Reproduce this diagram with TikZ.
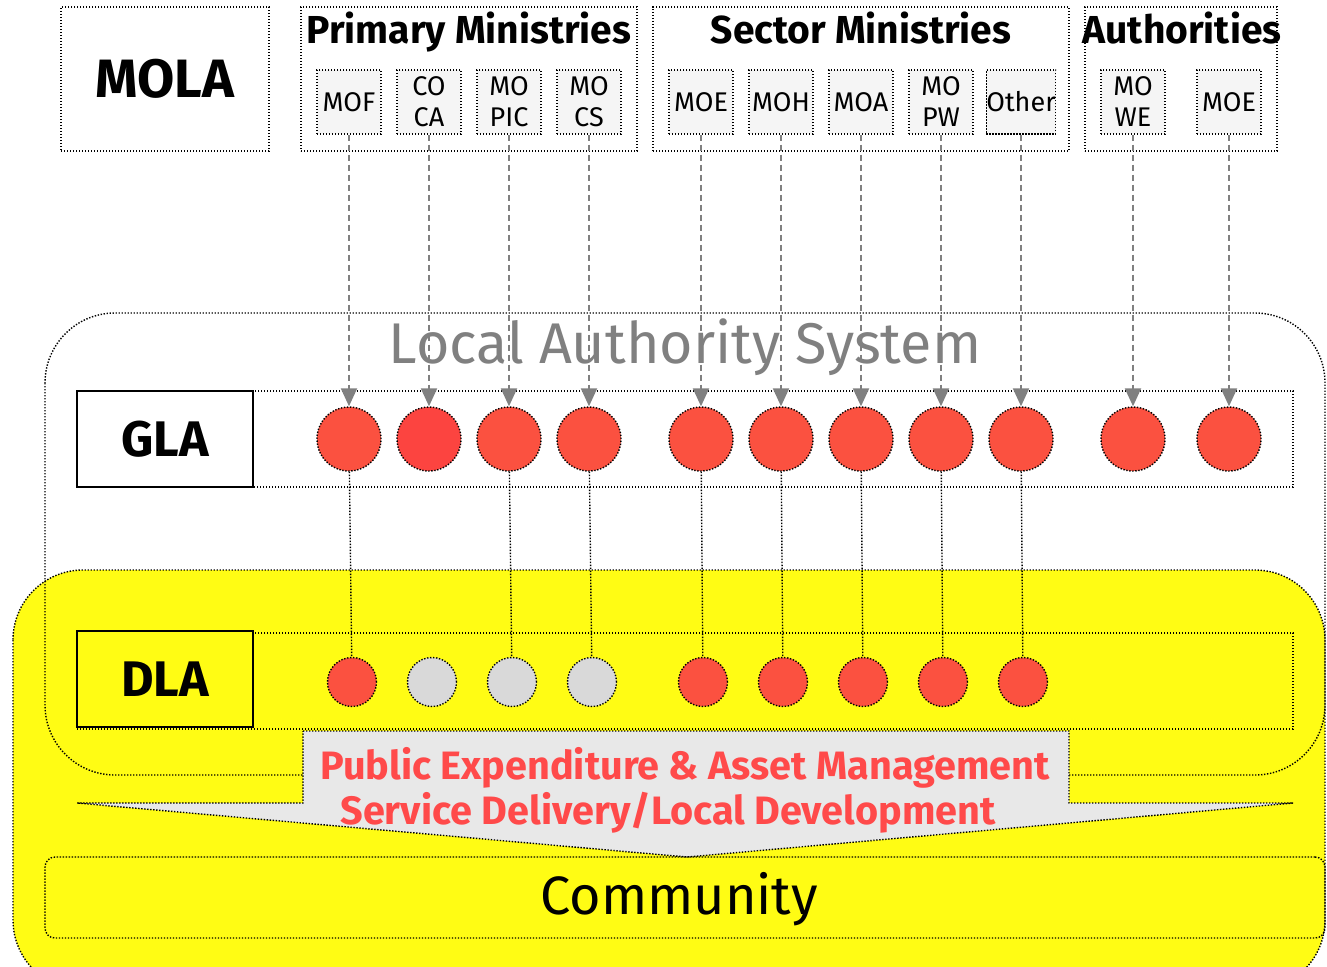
\documentclass[tikz,border=0pt]{standalone}
\usepackage{fontspec}
\setmainfont{Fira Sans}
\usetikzlibrary{arrows.meta}
\definecolor{lasred}{HTML}{FB5140}
\definecolor{lasred2}{HTML}{FC4440}
\definecolor{lasyellow}{HTML}{FFFC14}
\definecolor{boxgray}{HTML}{F5F5F5}
\definecolor{dotgray}{HTML}{D9D9D9}
\definecolor{flowgray}{HTML}{E8E8E8}
\definecolor{textred}{HTML}{FF4A4A}
\tikzset{
  dotbox/.style={draw, dash pattern=on 0.7pt off 0.8pt, line width=0.7pt},
  groupbox/.style={dotbox, minimum height=72pt, inner sep=0pt},
  headtxt/.style={font=\bfseries\fontsize{19.5}{19.5}\selectfont, inner sep=0pt},
  minbox/.style={dotbox, fill=boxgray, minimum width=32pt, minimum height=32pt,
    inner sep=0pt, align=center, font=\fontsize{13.5}{15.5}\selectfont},
  levelbox/.style={draw, line width=1pt, minimum width=88pt, minimum height=48pt,
    font=\bfseries\fontsize{25}{25}\selectfont},
  rowbox/.style={dotbox, minimum width=608pt, minimum height=48pt},
  gcirc/.style={circle, dotbox, minimum size=32pt, inner sep=0pt},
  dcirc/.style={circle, dotbox, minimum size=24.5pt, inner sep=0pt},
  feed/.style={draw=gray, dashed, dash pattern=on 3pt off 2pt, line width=1pt,
    -{Triangle[width=8pt,length=9pt]}},
  link/.style={dash pattern=on 0.7pt off 0.8pt, line width=0.7pt}
}
\begin{document}
\begin{tikzpicture}[x=0.5pt,y=-0.5pt]
\clip (0,0) rectangle (1327,966);
% background areas
\draw[dotbox, fill=lasyellow, rounded corners=35pt] (13,570) rectangle (1325,990);
\draw[dotbox, rounded corners=35pt] (45,313) rectangle (1325,775);
\node[text=gray, font=\fontsize{28.7}{28.7}\selectfont] (lastitle) at (685,347) {Local Authority System};

% ministries
\node[groupbox, minimum width=104pt, font=\bfseries\fontsize{27}{27}\selectfont] (mola) at (165,79) {MOLA};
\node[groupbox, minimum width=168pt] (primary) at (469,79) {};
\node[groupbox, minimum width=208pt] (sector) at (861,79) {};
\node[groupbox, minimum width=96pt] (authority) at (1181,79) {};
\node[headtxt] (ptitle) at (469,32) {Primary Ministries};
\node[headtxt] (stitle) at (861,28) {Sector Ministries};
\node[headtxt] (atitle) at (1182,28) {Authorities};

% GLA / DLA rows
\node[rowbox] (glarow) at (685,439) {};
\node[levelbox, fill=white] (gla) at (165,439) {GLA};
\node[rowbox] (dlarow) at (685,681) {};
\node[levelbox, fill=lasyellow] (dla) at (165,679) {DLA};

\foreach \nm/\x/\txt/\col [count=\i] in {mof/349/MOF/lasred, coca/429/{CO\\CA}/lasred2,
    mopic/509/{MO\\PIC}/lasred, mocs/589/{MO\\CS}/lasred, moe/701/MOE/lasred,
    moh/781/MOH/lasred, moa/861/MOA/lasred, mopw/941/{MO\\PW}/lasred,
    other/1021/Other/lasred, mowe/1133/{MO\\WE}/lasred, moeb/1229/MOE/lasred}{
  \node[minbox] (\nm) at (\x,102) {\txt};
  \node[gcirc, fill=\col] (g\i) at (\x,439) {};
  \draw[feed] (\nm) -- (g\i);
}

\foreach \x/\col [count=\i] in {352/lasred, 432/dotgray, 512/dotgray, 592/dotgray,
    703/lasred, 783/lasred, 863/lasred, 943/lasred, 1023/lasred}{
  \node[dcirc, fill=\col] (d\i) at (\x,682) {};
}
\foreach \i in {1,3,4,5,6,7,8,9}{
  \draw[link] (g\i) -- (d\i);
}

% flow to community
\draw[dotbox, fill=flowgray] (303,731) -- (1069,731) -- (1069,803) -- (1293,803)
  -- (687,857) -- (77,803) -- (303,803) -- cycle;
\node[text=textred, font=\bfseries\fontsize{19.8}{19.8}\selectfont] (flow1) at (685,768) {Public Expenditure \& Asset Management};
\node[text=textred, font=\bfseries\fontsize{19.8}{19.8}\selectfont] (flow2) at (668,813) {Service Delivery/Local Development};
\node[dotbox, rounded corners=5pt, minimum width=640pt, minimum height=40.5pt] (community) at (685,897.5) {};
\node[font=\fontsize{27}{27}\selectfont] (commtxt) at (679,899) {Community};
\end{tikzpicture}
\end{document}
